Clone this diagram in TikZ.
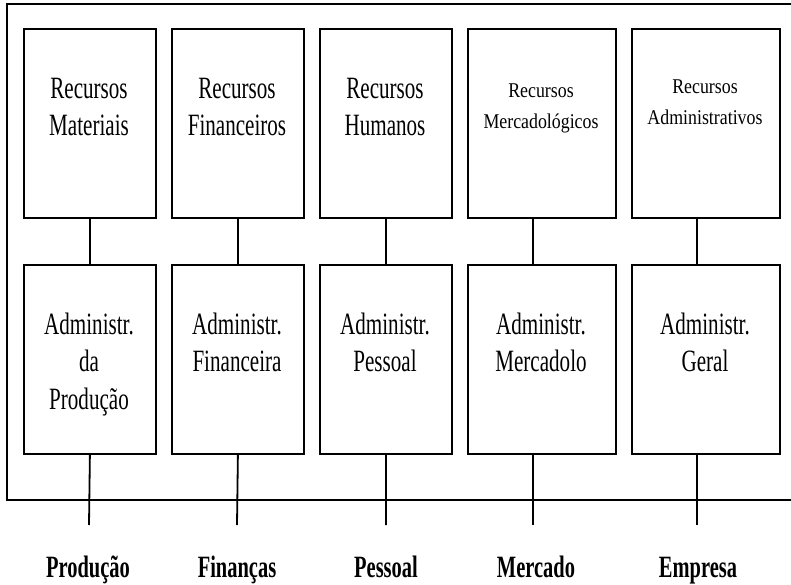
\documentclass[tikz,border=0pt]{standalone}
\usepackage{fontspec}
\setmainfont{Liberation Serif}
\newfontfamily\cfont[FakeStretch=0.68]{Liberation Serif}
\newfontfamily\sfont[FakeStretch=0.85]{Liberation Serif}
\newfontfamily\bfont[FakeStretch=0.66]{Liberation Serif}
\begin{document}
\begin{tikzpicture}[x=1pt,y=-1pt,
  line width=1.8pt,
  box/.style={draw, line width=1.8pt, anchor=north west, inner sep=0pt},
  txt/.style={align=center, anchor=north, inner sep=0pt, font=\cfont\fontsize{31}{37.5}\selectfont},
  stxt/.style={align=center, anchor=north, inner sep=0pt, font=\sfont\fontsize{21}{31}\selectfont},
  lbl/.style={anchor=base, inner sep=0pt, font=\bfont\bfseries\fontsize{31}{37}\selectfont}]
\useasboundingbox (0,0) rectangle (791,585);
\draw (791,4) -- (7,4) -- (7,500) -- (791,500);
% top boxes
\node[box, minimum width=132pt, minimum height=189pt] (t1) at (23,28) {};
\node[box, minimum width=132pt, minimum height=189pt] (t2) at (171,28) {};
\node[box, minimum width=132pt, minimum height=189pt] (t3) at (319,28) {};
\node[box, minimum width=148pt, minimum height=189pt] (t4) at (467,28) {};
\node[box, minimum width=148pt, minimum height=189pt] (t5) at (631,28) {};
% bottom boxes
\node[box, minimum width=132pt, minimum height=189pt] (b1) at (23,264) {};
\node[box, minimum width=132pt, minimum height=189pt] (b2) at (171,264) {};
\node[box, minimum width=132pt, minimum height=189pt] (b3) at (319,264) {};
\node[box, minimum width=148pt, minimum height=189pt] (b4) at (467,264) {};
\node[box, minimum width=148pt, minimum height=189pt] (b5) at (631,264) {};
% texts
\node[txt] (tt1) at (89,77) {Recursos\\Materiais};
\node[txt] (tt2) at (237,77) {Recursos\\Financeiros};
\node[txt] (tt3) at (385,77) {Recursos\\Humanos};
\node[stxt] (tt4) at (541,83) {Recursos\\Mercadológicos};
\node[stxt] (tt5) at (705,79) {Recursos\\Administrativos};
\node[txt] (bt1) at (89,312) {Administr.\\da\\Produção};
\node[txt] (bt2) at (237,312) {Administr.\\Financeira};
\node[txt] (bt3) at (385,312) {Administr.\\Pessoal};
\node[txt] (bt4) at (541,312) {Administr.\\Mercadolo};
\node[txt] (bt5) at (705,312) {Administr.\\Geral};
% bottom label anchors
\coordinate (e1) at (89,525);
\coordinate (e2) at (237,525);
\coordinate (e3) at (386,525);
\coordinate (e4) at (533,525);
\coordinate (e5) at (697,525);
\node[lbl] (l1) at (88,577) {Produção};
\node[lbl] (l2) at (237,577) {Finanças};
\node[lbl] (l3) at (386,577) {Pessoal};
\node[lbl] (l4) at (536,577) {Mercado};
\node[lbl] (l5) at (698,577) {Empresa};
% connectors
\draw (t1.south) -- (b1.north);
\draw (t2.south) -- (b2.north);
\draw (t3.south) -- (b3.north);
\draw (t4.south -| e4) -- (b4.north -| e4);
\draw (t5.south -| e5) -- (b5.north -| e5);
\draw (b1.south) -- (e1);
\draw (b2.south) -- (e2);
\draw (b3.south) -- (e3);
\draw (b4.south -| e4) -- (e4);
\draw (b5.south -| e5) -- (e5);
\end{tikzpicture}
\end{document}
